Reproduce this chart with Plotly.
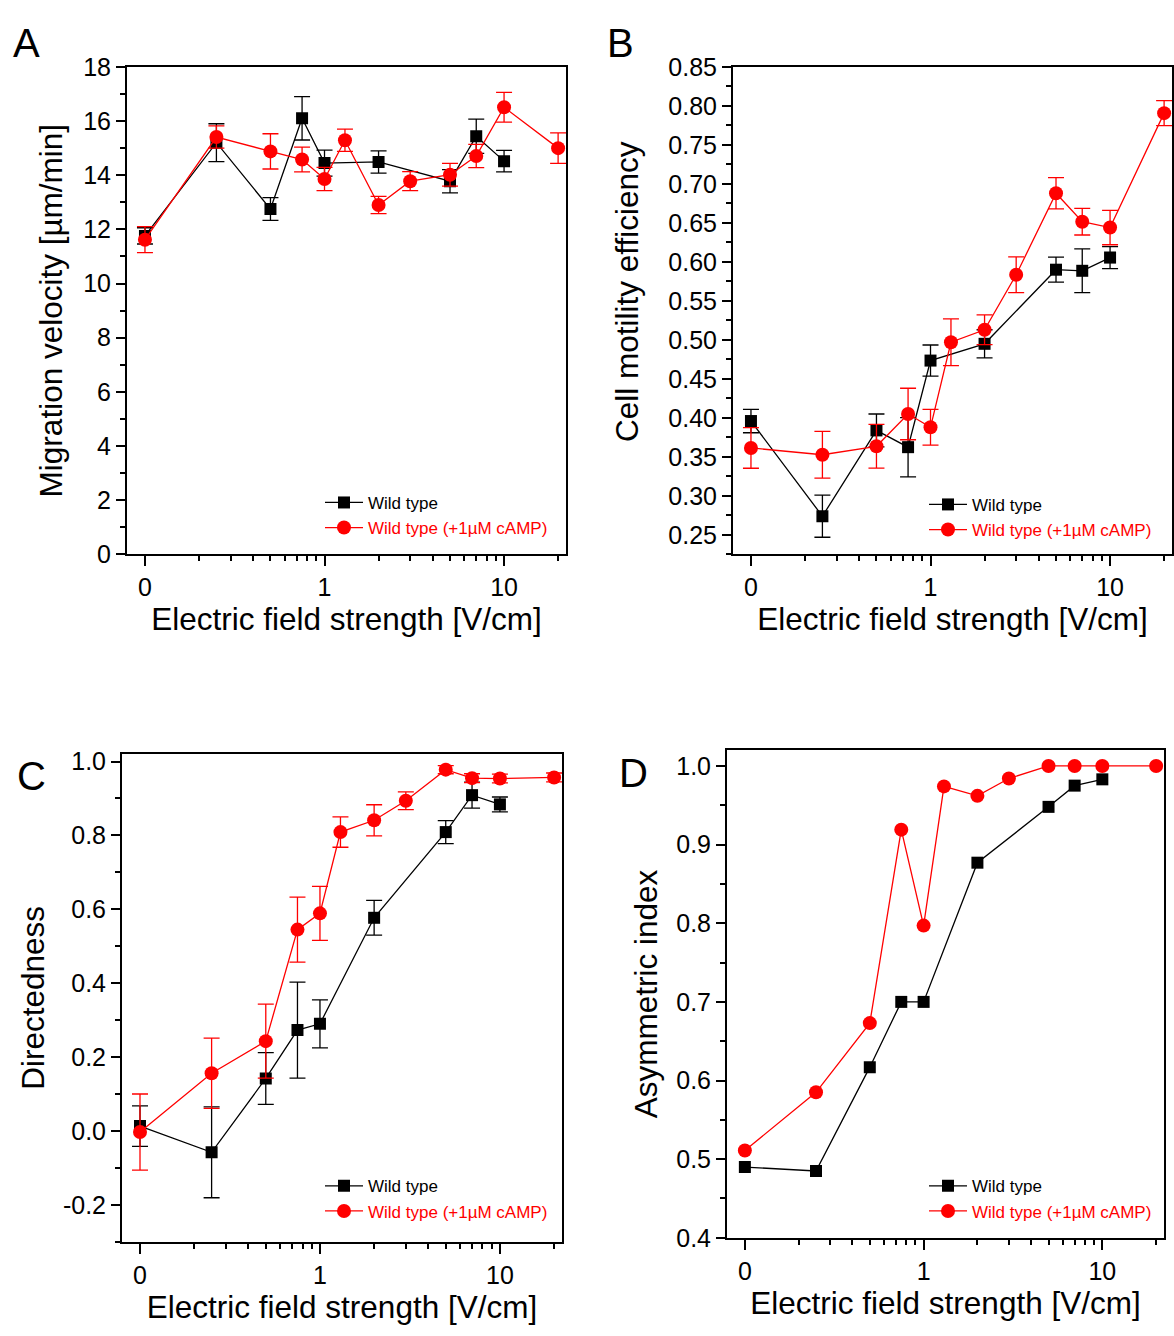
import plotly.graph_objects as go

W, H = 1174, 1336

# ---------------- data ----------------
# field strengths [V/cm]; "0" is drawn at the left break of the log axis
field_wt = [0, 0.25, 0.5, 0.75, 1, 2, 5, 7, 10]
field_camp = [0, 0.25, 0.5, 0.75, 1, 1.3, 2, 3, 5, 7, 10, 20]
ZERO_POS = 0.1  # position of the "0" tick on the log axis

# A: migration velocity [um/min]
vel_wt = [11.76, 15.2, 12.75, 16.1, 14.45, 14.49, 13.78, 15.44, 14.52]
vel_wt_err = [0.3, 0.7, 0.42, 0.8, 0.48, 0.41, 0.43, 0.63, 0.4]
vel_camp = [11.62, 15.41, 14.88, 14.58, 13.86, 15.29, 12.9, 13.78, 14.02, 14.71, 16.51, 15.0]
vel_camp_err = [0.48, 0.41, 0.65, 0.46, 0.43, 0.41, 0.32, 0.35, 0.42, 0.43, 0.55, 0.56]

# B: cell motility efficiency
eff_wt = [0.396, 0.274, 0.384, 0.3625, 0.4735, 0.495, 0.590, 0.5886, 0.6055]
eff_wt_err = [0.015, 0.027, 0.021, 0.038, 0.02, 0.018, 0.016, 0.028, 0.014]
eff_camp = [0.3615, 0.3528, 0.3636, 0.405, 0.388, 0.497, 0.513, 0.5835, 0.688, 0.6515, 0.644, 0.7907]
eff_camp_err = [0.026, 0.03, 0.028, 0.033, 0.023, 0.03, 0.019, 0.023, 0.02, 0.017, 0.022, 0.016]

# C: directedness
dir_wt = [0.013, -0.058, 0.142, 0.273, 0.290, 0.577, 0.809, 0.909, 0.884]
dir_wt_err = [0.055, 0.123, 0.07, 0.13, 0.065, 0.047, 0.031, 0.035, 0.02]
dir_camp = [-0.003, 0.156, 0.243, 0.545, 0.589, 0.809, 0.841, 0.894, 0.978, 0.955, 0.954, 0.957]
dir_camp_err = [0.103, 0.095, 0.1, 0.088, 0.073, 0.041, 0.042, 0.024, 0.011, 0.012, 0.012, 0.012]

# D: asymmetric index
asym_wt = [0.490, 0.485, 0.617, 0.700, 0.700, 0.877, 0.948, 0.975, 0.983]
asym_camp = [0.511, 0.585, 0.673, 0.919, 0.797, 0.974, 0.962, 0.984, 1.0, 1.0, 1.0, 1.0]

# tick labels
x_tickvals = [0.1, 1, 10]
x_ticktext = ["0", "1", "10"]
x_minor = [0.2, 0.3, 0.4, 0.5, 0.6, 0.7, 0.8, 0.9, 2, 3, 4, 5, 6, 7, 8, 9, 20]
a_ticks = [0, 2, 4, 6, 8, 10, 12, 14, 16, 18]
b_ticks = [0.25, 0.30, 0.35, 0.40, 0.45, 0.50, 0.55, 0.60, 0.65, 0.70, 0.75, 0.80, 0.85]
c_ticks = [-0.2, 0.0, 0.2, 0.4, 0.6, 0.8, 1.0]
c_ticktext = ["-0.2", "0.0", "0.2", "0.4", "0.6", "0.8", "1.0"]
d_ticks = [0.4, 0.5, 0.6, 0.7, 0.8, 0.9, 1.0]

name_wt = "Wild type"
name_camp = "<span style='color:#ff0000'>Wild type (+1µM cAMP)</span>"

BLACK = "#000000"
RED = "#ff0000"
FONT = "Liberation Sans, Arial, sans-serif"
TICK_SIZE = 25
TITLE_SIZE = 31.5


def xpos(vals):
    return [ZERO_POS if v == 0 else v for v in vals]


fig = go.Figure()

panels = [
    # (xaxis id, yaxis id, legend id, wt, wt_err, camp, camp_err)
    ("x", "y", "legend", vel_wt, vel_wt_err, vel_camp, vel_camp_err),
    ("x2", "y2", "legend2", eff_wt, eff_wt_err, eff_camp, eff_camp_err),
    ("x3", "y3", "legend3", dir_wt, dir_wt_err, dir_camp, dir_camp_err),
    ("x4", "y4", "legend4", asym_wt, None, asym_camp, None),
]

for xa, ya, lg, wt, wte, cp, cpe in panels:
    fig.add_trace(go.Scatter(
        x=xpos(field_wt), y=wt, mode="lines+markers", name=name_wt,
        xaxis=xa, yaxis=ya, legend=lg,
        line=dict(color=BLACK, width=1.3),
        marker=dict(symbol="square", size=12, color=BLACK),
        error_y=dict(type="data", array=wte, visible=wte is not None,
                     color=BLACK, thickness=1.3, width=8),
    ))
    fig.add_trace(go.Scatter(
        x=xpos(field_camp), y=cp, mode="lines+markers", name=name_camp,
        xaxis=xa, yaxis=ya, legend=lg,
        line=dict(color=RED, width=1.3),
        marker=dict(symbol="circle", size=14, color=RED),
        error_y=dict(type="data", array=cpe, visible=cpe is not None,
                     color=RED, thickness=1.3, width=8),
    ))


def dx(l, r):
    return [l / W, r / W]


def dy(t, b):
    return [1 - b / H, 1 - t / H]


xcommon = dict(
    type="log", range=[-1.1, 1.345],
    tickmode="array", tickvals=x_tickvals, ticktext=x_ticktext,
    ticks="outside", ticklen=10, tickwidth=1.5, tickcolor=BLACK,
    minor=dict(tickmode="array", tickvals=x_minor, ticks="outside",
               ticklen=5, tickwidth=1.5, tickcolor=BLACK),
    showline=True, linewidth=2, linecolor=BLACK, mirror=True,
    showgrid=False, zeroline=False,
    tickfont=dict(size=TICK_SIZE, color=BLACK, family=FONT),
)


def xaxis(l, r, anchor):
    d = dict(xcommon)
    d.update(domain=dx(l, r), anchor=anchor,
             title=dict(text="Electric field strength [V/cm]",
                        font=dict(size=TITLE_SIZE, color=BLACK, family=FONT), standoff=8))
    return d


def yaxis(t, b, anchor, rng, tickvals, ticktext, minor_dtick, title, standoff):
    return dict(
        domain=dy(t, b), anchor=anchor, range=rng,
        tickmode="array", tickvals=tickvals, ticktext=ticktext,
        ticks="outside", ticklen=9, tickwidth=1.5, tickcolor=BLACK,
        minor=dict(dtick=minor_dtick, tick0=0, ticks="outside", ticklen=5,
                   tickwidth=1.5, tickcolor=BLACK),
        showline=True, linewidth=2, linecolor=BLACK, mirror=True,
        showgrid=False, zeroline=False,
        tickfont=dict(size=TICK_SIZE, color=BLACK, family=FONT),
        title=dict(text=title, font=dict(size=TITLE_SIZE, color=BLACK, family=FONT),
                   standoff=standoff),
    )


legend_common = dict(
    bgcolor="rgba(0,0,0,0)", borderwidth=0,
    font=dict(size=17, color=BLACK, family=FONT),
    xanchor="left", yanchor="top", itemwidth=38, tracegroupgap=0,
)


def legend(xl, yt):
    d = dict(legend_common)
    d.update(x=xl / W, y=1 - yt / H)
    return d


fig.update_layout(
    width=W, height=H,
    margin=dict(l=0, r=0, t=0, b=0),
    paper_bgcolor="white", plot_bgcolor="white",
    font=dict(family=FONT, color=BLACK),
    showlegend=True,
    xaxis=xaxis(127, 566, "y"),
    yaxis=yaxis(54, 552, "x", [0, 18], a_ticks, [str(v) for v in a_ticks], 1,
                "Migration velocity [µm/min]", 11),
    xaxis2=xaxis(733, 1172, "y2"),
    yaxis2=yaxis(54, 552, "x2", [0.225, 0.85], b_ticks, [f"{v:.2f}" for v in b_ticks], 0.025,
                 "", 12),
    xaxis3=xaxis(122, 562, "y3"),
    yaxis3=yaxis(756, 1254, "x3", [-0.3, 1.02], c_ticks, c_ticktext, 0.1,
                 "Directedness", 9),
    xaxis4=xaxis(727, 1164, "y4"),
    yaxis4=yaxis(752, 1250, "x4", [0.4, 1.02], d_ticks, [f"{v:.1f}" for v in d_ticks], 0.05,
                 "Asymmetric index", 9),
    legend=legend(320, 481),
    legend2=legend(924, 483),
    legend3=legend(320, 1179),
    legend4=legend(924, 1179),
)

# y title of panel B sits above the axis centre in the original
fig.add_annotation(text="Cell motility efficiency", x=627 / W, y=1 - 284 / H,
                   xref="paper", yref="paper", showarrow=False, textangle=-90,
                   xanchor="center", yanchor="middle",
                   font=dict(size=TITLE_SIZE, color=BLACK, family=FONT))

for letter, lx, ly in [("A", 26, 30), ("B", 620, 30), ("C", 31, 778), ("D", 633, 775)]:
    fig.add_annotation(text=letter, x=lx / W, y=1 - ly / H, xref="paper", yref="paper",
                       showarrow=False, xanchor="center", yanchor="middle",
                       font=dict(size=40, color=BLACK, family=FONT))

fig.write_html("out.html")
